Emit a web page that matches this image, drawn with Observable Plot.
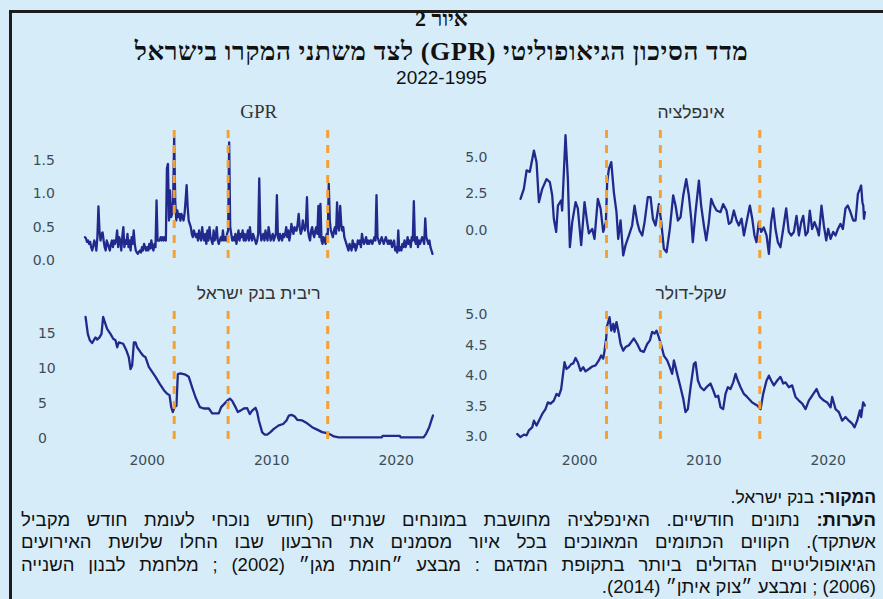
<!DOCTYPE html>
<html lang="he"><head><meta charset="utf-8">
<script src="https://cdn.jsdelivr.net/npm/d3@7"></script>
<script src="https://cdn.jsdelivr.net/npm/@observablehq/plot@0.6"></script>
<style>
html,body{margin:0;padding:0;}
body{background:#d6ecf9;width:883px;height:599px;overflow:hidden;position:relative;font-family:"Liberation Sans",Arial,sans-serif;}
#frame{position:absolute;left:9px;top:10px;width:900px;height:700px;border-top:3px solid #1c1c1c;border-left:3px solid #1c1c1c;}
.abs{position:absolute;}
.hdr{left:0;width:883px;text-align:center;color:#111;white-space:nowrap;}
#t1{top:6px;font:bold 22px "Liberation Serif","Liberation Sans",serif;line-height:26px;}
#t2{top:37px;font:bold 26px "Liberation Serif","Liberation Sans",serif;line-height:30px;letter-spacing:0.6px;}
#t3{top:66px;font:19px "Liberation Sans",sans-serif;line-height:24px;}
.ptitle{width:200px;text-align:center;color:#333;white-space:nowrap;}
.pt-lat{font:19px "Liberation Serif",serif;line-height:20px;}
.pt-heb{font:17.5px "Liberation Sans",sans-serif;line-height:20px;}
#foot{right:7px;top:486px;width:855px;direction:rtl;font:17.5px "Liberation Sans",sans-serif;line-height:22.5px;color:#111;}
#foot div{white-space:nowrap;}
#foot div.j{text-align:justify;text-align-last:justify;white-space:normal;font-size:18.5px;}
#foot div.l5{font-size:18.5px;}
</style></head>
<body>
<div id="frame"></div>
<div class="abs hdr" id="t1">איור 2</div>
<div class="abs hdr" id="t2" dir="rtl">מדד הסיכון הגיאופוליטי (GPR) לצד משתני המקרו בישראל</div>
<div class="abs hdr" id="t3">2022-1995</div>
<div id="panels"></div>
<div class="abs" id="foot">
<div><b>המקור:</b> בנק ישראל.</div>
<div class="j"><b>הערות:</b> נתונים חודשיים. האינפלציה מחושבת במונחים שנתיים (חודש נוכחי לעומת חודש מקביל</div>
<div class="j">אשתקד). הקווים הכתומים המאונכים בכל איור מסמנים את הרבעון שבו החלו שלושת האירועים</div>
<div class="j">הגיאופוליטיים הגדולים ביותר בתקופת המדגם : מבצע ״חומת מגן״ (2002) ; מלחמת לבנון השנייה</div>
<div class="l5">(2006) ; ומבצע ״צוק איתן״ (2014).</div>
</div>
<script>
// ---------- DATA ----------
const panelTitles = ["GPR", "אינפלציה", "ריבית בנק ישראל", "שקל-דולר"];
const eventYears = [2002.17, 2006.5, 2014.5];
const xTicks = [2000, 2010, 2020];

// GPR: monthly, Jan 1995 – Dec 2022
const gprStartYear = 1995;
const gprValues = [
0.35,0.33,0.28,0.30,0.25,0.28,0.20,0.15,0.22,0.30,0.25,0.15,
0.35,0.81,0.45,0.30,0.40,0.42,0.30,0.20,0.15,0.30,0.25,0.20,
0.15,0.25,0.30,0.20,0.30,0.25,0.30,0.45,0.20,0.35,0.30,0.15,
0.35,0.50,0.20,0.30,0.25,0.40,0.20,0.30,0.15,0.35,0.25,0.45,
0.25,0.15,0.12,0.10,0.13,0.15,0.12,0.20,0.15,0.25,0.20,0.15,
0.20,0.15,0.25,0.18,0.30,0.20,0.15,0.25,0.20,0.90,0.30,0.30,
0.30,0.35,0.30,0.35,0.30,0.35,0.30,1.38,1.45,0.60,1.05,0.65,
0.70,0.90,1.85,0.90,0.60,0.75,0.65,0.70,0.60,0.70,0.65,0.60,
0.70,0.90,1.13,0.80,0.60,0.55,0.50,0.40,0.35,0.45,0.40,0.35,
0.40,0.30,0.45,0.35,0.30,0.50,0.35,0.30,0.40,0.25,0.45,0.30,
0.50,0.35,0.30,0.25,0.45,0.30,0.35,0.50,0.30,0.25,0.30,0.35,
0.30,0.45,0.30,0.35,0.30,0.40,0.45,1.77,0.50,0.40,0.30,0.35,
0.30,0.40,0.25,0.35,0.45,0.30,0.40,0.35,0.45,0.30,0.40,0.30,
0.35,0.45,0.30,0.50,0.35,0.30,0.40,0.35,0.30,0.25,0.30,0.40,
1.23,0.45,0.30,0.35,0.40,0.30,0.45,0.35,0.30,0.50,0.40,0.30,
0.35,0.40,0.30,0.35,0.40,0.98,0.35,0.30,0.40,0.35,0.30,0.40,
0.35,0.40,0.50,0.35,0.45,0.30,0.40,0.55,0.45,0.40,0.50,0.45,
0.45,0.55,0.70,0.50,0.40,0.45,0.60,0.50,0.45,0.55,0.95,0.45,
0.35,0.30,0.45,0.50,0.40,0.35,0.45,0.50,0.40,0.82,0.35,0.85,
0.30,0.25,0.35,0.30,0.25,0.40,0.35,1.15,0.60,0.45,0.40,0.35,
0.45,0.50,0.40,0.87,0.50,0.45,0.82,0.55,0.45,0.50,0.35,0.30,
0.25,0.20,0.15,0.25,0.20,0.15,0.30,0.20,0.25,0.15,0.20,0.30,
0.25,0.30,0.20,0.40,0.30,0.25,0.30,0.35,0.25,0.30,0.25,0.30,
0.30,0.25,0.30,0.35,0.30,0.98,0.35,0.30,0.25,0.30,0.35,0.30,
0.25,0.30,0.35,0.30,0.25,0.30,0.25,0.30,0.20,0.25,0.30,0.15,
0.20,0.12,0.45,0.15,0.20,0.15,0.25,0.20,0.30,0.20,0.25,0.35,
0.25,0.30,0.20,0.35,0.30,0.89,0.30,0.25,0.35,0.20,0.30,0.25,
0.30,0.35,0.30,0.25,0.63,0.35,0.30,0.25,0.30,0.20,0.15,0.10
];

// Inflation (%)
const inflYears = [1995.25,1995.52,1995.74,1996.00,1996.33,1996.54,1996.73,1997.00,1997.34,1997.61,1997.80,1997.93,1998.12,1998.26,1998.52,1998.60,1998.87,1999.06,1999.22,1999.41,1999.68,1999.86,2000.13,2000.40,2000.61,2000.75,2001.02,2001.20,2001.47,2001.69,2001.90,2002.12,2002.22,2002.36,2002.55,2002.76,2002.97,2003.11,2003.30,2003.51,2003.70,2003.97,2004.23,2004.42,2004.64,2004.82,2005.04,2005.23,2005.49,2005.71,2005.90,2006.11,2006.38,2006.57,2006.78,2007.00,2007.26,2007.53,2007.72,2007.91,2008.12,2008.34,2008.58,2008.79,2008.98,2009.11,2009.33,2009.60,2009.78,2010.00,2010.19,2010.40,2010.59,2010.80,2011.02,2011.34,2011.55,2011.82,2012.01,2012.20,2012.41,2012.63,2012.81,2013.03,2013.22,2013.43,2013.70,2013.89,2014.07,2014.23,2014.42,2014.61,2014.82,2015.04,2015.23,2015.41,2015.58,2015.76,2015.95,2016.16,2016.38,2016.62,2016.83,2017.02,2017.24,2017.45,2017.64,2017.83,2017.99,2018.18,2018.36,2018.52,2018.71,2018.90,2019.11,2019.25,2019.46,2019.65,2019.84,2020.00,2020.19,2020.40,2020.59,2020.78,2020.99,2021.18,2021.39,2021.58,2021.79,2022.01,2022.20,2022.39,2022.55,2022.65,2022.75,2022.82,2022.88,2022.95];
const inflValues = [2.16,2.84,4.1,4.0,5.45,4.66,1.93,2.84,3.5,3.3,2.4,0.8,-0.1,1.7,2.05,1.36,6.5,3.5,-1.14,0.57,1.93,1.5,-1.0,1.93,0.57,-0.2,0.1,-0.57,2.16,1.5,-0.1,0.57,3.3,4.2,4.66,2.6,1.25,-0.57,0.68,-1.7,-1.0,-0.34,0.34,1.7,0.57,0.0,-0.34,0.57,2.27,2.27,0.8,0.34,1.8,0.57,-1.25,-1.48,0.11,2.4,1.7,0.68,0.9,2.4,3.5,2.4,0.8,-0.8,1.25,3.4,1.7,0.34,-0.68,0.57,2.16,1.7,1.36,1.25,1.8,1.36,0.45,0.57,1.36,0.68,0.34,0.8,-0.34,0.57,1.7,0.8,-0.34,-0.8,0.57,-0.1,0.2,-0.34,-1.6,0.57,1.5,0.1,-0.8,-1.14,0.1,1.5,-0.1,-0.34,-0.1,1.0,-0.34,0.57,1.0,-0.34,-0.1,1.36,0.1,0.57,0.1,-0.34,1.7,0.34,-0.68,0.1,-0.57,-0.1,-0.34,0.1,0.45,0.1,1.5,1.7,1.25,0.68,0.68,2.5,2.84,3.07,1.93,1.7,0.8,1.25];

// Bank of Israel interest rate (%)
const rateYears = [1995.05,1995.23,1995.39,1995.58,1995.71,1995.85,1995.98,1996.17,1996.33,1996.46,1996.65,1996.78,1997.05,1997.27,1997.45,1997.59,1997.72,1998.07,1998.34,1998.52,1998.66,1998.79,1998.93,1999.06,1999.19,1999.46,1999.68,1999.86,2000.13,2000.40,2000.67,2001.01,2001.34,2001.60,2001.79,2001.93,2002.06,2002.19,2002.35,2002.46,2002.67,2003.08,2003.34,2003.61,2003.88,2004.23,2004.55,2004.95,2005.22,2005.75,2005.94,2006.21,2006.42,2006.64,2006.82,2007.09,2007.28,2007.49,2007.76,2008.03,2008.24,2008.43,2008.70,2008.83,2008.97,2009.23,2009.42,2009.64,2009.90,2010.17,2010.57,2010.92,2011.19,2011.38,2011.59,2011.83,2012.05,2012.45,2012.85,2013.25,2013.65,2014.05,2014.45,2014.72,2014.99,2015.39,2018.85,2018.9,2020.3,2020.35,2022.2,2022.4,2022.65,2022.95];
const rateValues = [17.3,14.9,14.0,13.6,14.0,14.4,14.1,14.4,14.9,17.3,16.3,15.6,14.9,14.2,14.0,13.0,13.7,13.5,12.5,11.6,9.9,10.4,13.7,13.7,13.0,12.3,11.8,11.6,10.2,9.5,8.8,7.8,6.9,6.4,6.2,4.5,3.8,4.5,4.7,9.2,9.3,9.1,8.8,7.3,5.9,4.5,4.3,4.3,3.6,3.6,4.5,5.0,5.4,5.7,5.4,4.5,3.8,4.0,4.3,4.35,3.5,4.0,4.4,3.8,2.6,0.95,0.6,0.6,0.95,1.4,1.9,2.1,2.6,3.3,3.4,3.2,2.7,2.6,2.2,1.65,1.3,0.95,0.8,0.6,0.33,0.2,0.2,0.4,0.4,0.2,0.2,0.7,1.65,3.3];

// Shekel-dollar exchange rate
const fxYears = [1994.99,1995.25,1995.52,1995.74,1995.92,1996.19,1996.33,1996.54,1996.73,1997.00,1997.26,1997.45,1997.67,1997.93,1998.15,1998.34,1998.52,1998.79,1998.95,1999.14,1999.33,1999.49,1999.68,1999.86,2000.08,2000.29,2000.48,2000.75,2001.02,2001.29,2001.55,2001.74,2001.90,2002.01,2002.14,2002.22,2002.41,2002.55,2002.71,2002.81,2002.97,2003.16,2003.30,2003.51,2003.70,2003.97,2004.15,2004.37,2004.64,2004.90,2005.17,2005.44,2005.66,2005.84,2006.03,2006.19,2006.38,2006.57,2006.78,2007.05,2007.26,2007.45,2007.59,2007.72,2007.91,2008.12,2008.34,2008.52,2008.71,2008.93,2009.19,2009.33,2009.52,2009.73,2010.00,2010.21,2010.53,2010.75,2010.94,2011.15,2011.34,2011.55,2011.74,2011.93,2012.14,2012.36,2012.55,2012.73,2012.95,2013.22,2013.48,2013.89,2014.29,2014.56,2014.77,2015.04,2015.23,2015.41,2015.63,2015.90,2016.16,2016.38,2016.57,2016.83,2017.10,2017.37,2017.64,2017.91,2018.18,2018.44,2018.71,2019.06,2019.33,2019.65,2019.92,2020.19,2020.32,2020.59,2020.86,2021.12,2021.39,2021.66,2021.93,2022.12,2022.33,2022.55,2022.65,2022.81,2022.95];
const fxValues = [3.04,2.99,3.03,3.02,3.1,3.15,3.26,3.18,3.26,3.37,3.45,3.56,3.54,3.59,3.7,3.67,3.78,4.22,4.11,4.14,4.19,4.2,4.29,4.22,4.08,4.14,4.07,4.11,4.15,4.17,4.25,4.33,4.28,4.41,4.61,4.82,4.96,4.74,4.85,4.72,4.88,4.69,4.52,4.41,4.47,4.5,4.55,4.61,4.52,4.41,4.39,4.52,4.58,4.72,4.69,4.74,4.63,4.5,4.33,4.25,4.14,4.03,4.25,4.14,3.98,3.81,3.62,3.4,3.45,3.81,4.19,4.22,3.92,3.81,3.76,3.81,3.87,3.76,3.65,3.67,3.48,3.45,3.7,3.81,3.78,3.89,4.03,3.92,3.81,3.7,3.65,3.56,3.51,3.45,3.7,3.92,4.0,3.92,3.84,3.92,3.98,3.87,3.89,3.81,3.84,3.65,3.59,3.54,3.45,3.59,3.67,3.78,3.65,3.59,3.56,3.48,3.65,3.45,3.4,3.26,3.32,3.26,3.21,3.15,3.26,3.43,3.32,3.56,3.51];

// ---------- CHART ----------
const navy = "#212a8c";
const orange = "#f5a033";
const tickColor = "#3d4d57";

const gprData = gprValues.map((v, i) => ({date: gprStartYear + i / 12, value: v}));
const inflData = inflYears.map((d, i) => ({date: d, value: inflValues[i]}));
const rateData = rateYears.map((d, i) => ({date: d, value: rateValues[i]}));
const fxData = fxYears.map((d, i) => ({date: d, value: fxValues[i]}));

const panels = [
  {title: panelTitles[0], cls: "pt-lat", data: gprData, left: 0, top: 95, width: 450, height: 185, mL: 84.45, mR: 16.95, mT: 35, mB: 15,
   yDomain: [-0.075, 1.95], yTicks: [0, 0.5, 1.0, 1.5], yFmt: d3.format(".1f"), xAxis: false, anchor: "end", pad: 30, titleTop: 102},
  {title: panelTitles[1], cls: "pt-heb", data: inflData, left: 440, top: 95, width: 443, height: 185, mL: 76.9, mR: 18, mT: 35, mB: 15,
   yDomain: [-2.39, 6.82], yTicks: [0, 2.5, 5.0], yFmt: d3.format(".1f"), xAxis: false, anchor: "end", pad: 30, titleTop: 102},
  {title: panelTitles[2], cls: "pt-heb", data: rateData, left: 0, top: 280, width: 450, height: 200, mL: 84.45, mR: 16.95, mT: 31, mB: 37,
   yDomain: [-0.67, 18.08], yTicks: [0, 5, 10, 15], yFmt: d3.format("d"), xAxis: true, anchor: "start", pad: 47, titleTop: 283},
  {title: panelTitles[3], cls: "pt-heb", data: fxData, left: 440, top: 280, width: 443, height: 200, mL: 76.9, mR: 18, mT: 31, mB: 37,
   yDomain: [2.885, 5.054], yTicks: [3.0, 3.5, 4.0, 4.5, 5.0], yFmt: d3.format(".1f"), xAxis: true, anchor: "end", pad: 30, titleTop: 283}
];

const host = document.getElementById("panels");
for (const p of panels) {
  const marks = [
    Plot.axisY({ticks: p.yTicks, tickFormat: p.yFmt, tickSize: 0, tickPadding: p.pad, textAnchor: p.anchor, label: null, fill: tickColor}),
    Plot.line(p.data, {x: "date", y: "value", stroke: navy, strokeWidth: 2.3, strokeLinejoin: "round"}),
    Plot.ruleX(eventYears, {stroke: orange, strokeWidth: 3, strokeDasharray: "8,7"})
  ];
  if (p.xAxis) marks.push(Plot.axisX({ticks: xTicks, tickFormat: d => String(d), tickSize: 0, tickPadding: 12, label: null, fill: tickColor}));
  const chart = Plot.plot({
    width: p.width, height: p.height,
    marginLeft: p.mL, marginRight: p.mR, marginTop: p.mT, marginBottom: p.mB,
    style: {background: "transparent", fontFamily: "DejaVu Sans, sans-serif", fontSize: "14px", overflow: "visible"},
    x: {domain: [1995, 2023], label: null, axis: p.xAxis ? undefined : null},
    y: {domain: p.yDomain, label: null},
    marks
  });
  const wrap = document.createElement("div");
  wrap.className = "abs";
  wrap.style.left = p.left + "px";
  wrap.style.top = p.top + "px";
  wrap.appendChild(chart);
  host.appendChild(wrap);

  const t = document.createElement("div");
  t.className = "abs ptitle " + p.cls;
  t.textContent = p.title;
  const cx = p.left + p.mL + (p.width - p.mL - p.mR) / 2;
  t.style.left = (cx - 100) + "px";
  t.style.top = p.titleTop + "px";
  host.appendChild(t);
}
</script>
</body></html>
